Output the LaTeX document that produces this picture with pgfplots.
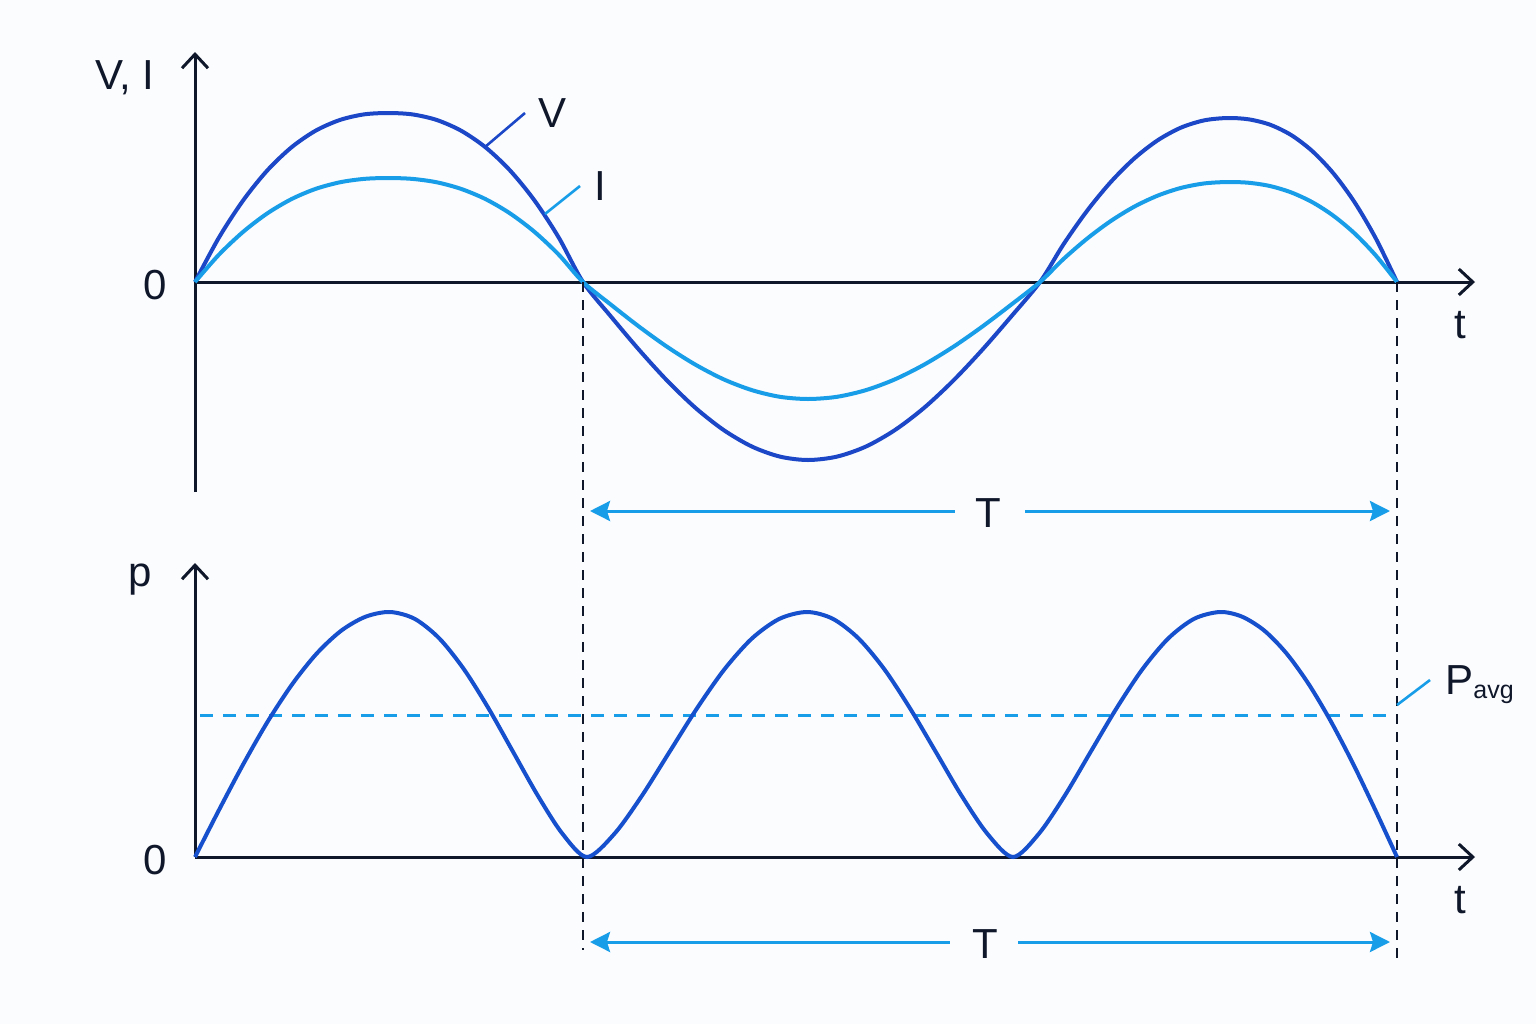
\documentclass[border=0pt]{standalone}
\usepackage{pgfplots}
\pgfplotsset{compat=1.18}
\usepackage{fontspec}
\setmainfont{Liberation Sans}
\usetikzlibrary{arrows.meta}
\definecolor{vcol}{RGB}{28,72,200}
\definecolor{icol}{RGB}{24,158,232}
\definecolor{pcol}{RGB}{22,80,205}
\definecolor{axcol}{RGB}{15,23,42}
\definecolor{bgcol}{RGB}{251,252,254}
\begin{document}
\begin{tikzpicture}[lbl/.style={text=axcol,font=\fontsize{21}{25}\selectfont,inner sep=0pt}]
\fill[bgcol] (0,0) rectangle (768pt,512pt);
\useasboundingbox (0,0) rectangle (768pt,512pt);
% ---------- top: V and I ----------
\begin{axis}[at={(97.5pt,266pt)}, anchor=south west, scale only axis,
  width=640pt, height=220pt, xmin=0, xmax=12.8, ymin=-2.1, ymax=2.3,
  axis lines=middle, ticks=none, clip=false,
  axis line style={draw=axcol, line width=1.5pt, -{Straight Barb[length=7pt,width=13pt,line width=1.5pt]}}]
\addplot[vcol, line width=2pt, smooth] coordinates {
(0,0) (0.241,0.447) (0.483,0.818) (0.724,1.117) (0.965,1.347) (1.206,1.513) (1.448,1.620) (1.689,1.676) (1.93,1.69)
(2.174,1.676) (2.418,1.620) (2.661,1.513) (2.905,1.347) (3.149,1.117) (3.393,0.818) (3.636,0.447) (3.88,0)
(4.161,-0.347) (4.443,-0.681) (4.724,-0.989) (5.005,-1.259) (5.286,-1.480) (5.568,-1.645) (5.849,-1.746) (6.13,-1.78)
(6.42,-1.746) (6.71,-1.645) (7.00,-1.480) (7.29,-1.259) (7.58,-0.989) (7.87,-0.681) (8.16,-0.347) (8.45,0)
(8.685,0.377) (8.92,0.711) (9.155,0.997) (9.39,1.233) (9.625,1.416) (9.86,1.544) (10.095,1.617) (10.33,1.64)
(10.541,1.626) (10.753,1.572) (10.964,1.468) (11.175,1.307) (11.386,1.084) (11.598,0.794) (11.809,0.434) (12.02,0)};
\addplot[icol, line width=2pt, smooth] coordinates {
(0,0) (0.241,0.275) (0.483,0.503) (0.724,0.687) (0.965,0.829) (1.206,0.931) (1.448,0.997) (1.689,1.031) (1.93,1.04)
(2.174,1.031) (2.418,0.997) (2.661,0.931) (2.905,0.829) (3.149,0.687) (3.393,0.503) (3.636,0.275) (3.88,0)
(4.161,-0.228) (4.443,-0.448) (4.724,-0.650) (5.005,-0.827) (5.286,-0.973) (5.568,-1.081) (5.849,-1.148) (6.13,-1.17)
(6.42,-1.148) (6.71,-1.081) (7.00,-0.973) (7.29,-0.827) (7.58,-0.650) (7.87,-0.448) (8.16,-0.228) (8.45,0)
(8.685,0.230) (8.92,0.433) (9.155,0.608) (9.39,0.752) (9.625,0.863) (9.86,0.941) (10.095,0.986) (10.33,1.00)
(10.541,0.992) (10.753,0.959) (10.964,0.895) (11.175,0.797) (11.386,0.661) (11.598,0.484) (11.809,0.264) (12.02,0)};
% labels
\node[lbl] at (axis cs:-0.70,2.04) {V, I};
\node[lbl] at (axis cs:-0.40,-0.03) {0};
\node[lbl] at (axis cs:12.65,-0.43) {t};
\node[lbl] at (axis cs:3.58,1.69) {V};
\node[lbl] at (axis cs:4.05,0.96) {I};
\draw[vcol, line width=1.3pt] (axis cs:2.90,1.35) -- (axis cs:3.30,1.69);
\draw[icol, line width=1.3pt] (axis cs:3.50,0.68) -- (axis cs:3.85,0.96);
% period markers
\draw[axcol, line width=1pt, dash pattern=on 5pt off 4pt] (axis cs:3.88,0) -- (axis cs:3.88,-6.68);
\draw[axcol, line width=1pt, dash pattern=on 5pt off 4pt] (axis cs:12.02,0) -- (axis cs:12.02,-6.80);
\draw[icol, line width=1.5pt, {Stealth[length=10pt,width=10pt,inset=1.5pt]}-] (axis cs:3.95,-2.29) -- (axis cs:7.60,-2.29);
\draw[icol, line width=1.5pt, -{Stealth[length=10pt,width=10pt,inset=1.5pt]}] (axis cs:8.30,-2.29) -- (axis cs:11.95,-2.29);
\node[lbl] at (axis cs:7.93,-2.31) {T};
\end{axis}
% ---------- bottom: p ----------
\begin{axis}[at={(97.5pt,83.5pt)}, anchor=south west, scale only axis,
  width=640pt, height=147pt, xmin=0, xmax=12.8, ymin=0, ymax=2.94,
  axis lines=middle, ticks=none, clip=false,
  axis line style={draw=axcol, line width=1.5pt, -{Straight Barb[length=7pt,width=13pt,line width=1.5pt]}}]
\addplot[icol, line width=1.5pt, dash pattern=on 6.5pt off 5pt] coordinates {(0.05,1.42) (11.97,1.42)};
\addplot[pcol, line width=2pt, smooth] coordinates {
(0,0) (0.244,0.478) (0.488,0.938) (0.731,1.361) (0.975,1.732) (1.219,2.037) (1.463,2.264) (1.706,2.403) (1.95,2.45)
(2.196,2.382) (2.443,2.186) (2.689,1.878) (2.935,1.487) (3.181,1.051) (3.428,0.614) (3.674,0.233) (3.92,0)
(4.195,0.233) (4.47,0.614) (4.745,1.051) (5.02,1.487) (5.295,1.878) (5.57,2.186) (5.845,2.382) (6.12,2.45)
(6.378,2.382) (6.635,2.186) (6.893,1.878) (7.15,1.487) (7.408,1.051) (7.665,0.614) (7.923,0.233) (8.18,0)
(8.439,0.233) (8.698,0.614) (8.956,1.051) (9.215,1.487) (9.474,1.878) (9.733,2.186) (9.991,2.382) (10.25,2.45)
(10.471,2.403) (10.693,2.264) (10.914,2.037) (11.135,1.732) (11.356,1.361) (11.578,0.938) (11.799,0.478) (12.02,0)};
\node[lbl] at (axis cs:-0.55,2.77) {p};
\node[lbl] at (axis cs:-0.40,-0.03) {0};
\node[lbl] at (axis cs:12.65,-0.43) {t};
\draw[icol, line width=1.3pt] (axis cs:12.02,1.52) -- (axis cs:12.35,1.77);
\node[lbl, anchor=base west] at (axis cs:12.50,1.63) {P\raisebox{-2pt}{\fontsize{12.5}{14}\selectfont avg}};
\draw[icol, line width=1.5pt, {Stealth[length=10pt,width=10pt,inset=1.5pt]}-] (axis cs:3.95,-0.85) -- (axis cs:7.55,-0.85);
\draw[icol, line width=1.5pt, -{Stealth[length=10pt,width=10pt,inset=1.5pt]}] (axis cs:8.23,-0.85) -- (axis cs:11.95,-0.85);
\node[lbl] at (axis cs:7.90,-0.87) {T};
\end{axis}
\end{tikzpicture}
\end{document}
